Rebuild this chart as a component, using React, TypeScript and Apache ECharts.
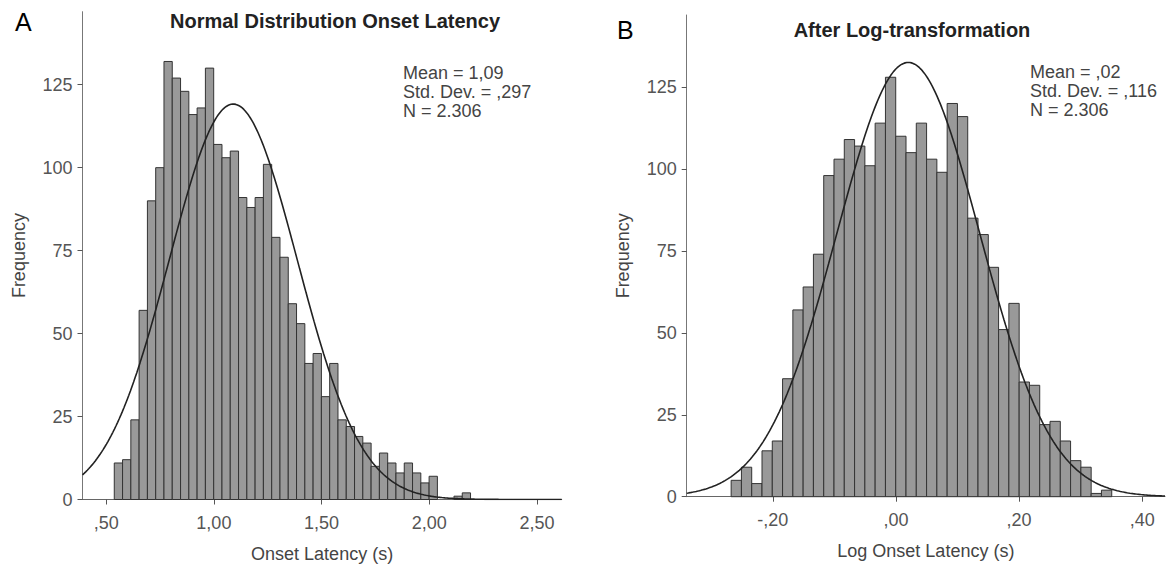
import React, { useEffect, useRef } from "react";
import * as echarts from "echarts";

// Left histogram: Onset Latency (s)
const leftCounts = [11, 12, 24, 57, 90, 100, 132, 127, 123, 116, 118, 130, 107, 103, 105, 91, 88, 91, 101, 79, 73, 59, 53, 41, 44, 31, 41, 24, 22, 19, 17, 10, 14, 11, 8, 11, 8, 5, 7, 0, 0, 1, 2];
const leftBinStart = 0.5375;
const leftBinWidth = 0.03847;
const leftMean = 1.09;
const leftSD = 0.297;
const leftXTicks = [0.5, 1.0, 1.5, 2.0, 2.5];

// Right histogram: Log Onset Latency (s)
const rightCounts = [5, 9, 4, 14, 17, 36, 57, 64, 74, 98, 103, 109, 107, 101, 114, 128, 110, 105, 114, 103, 99, 120, 116, 85, 80, 70, 51, 59, 35, 34, 22, 23, 17, 11, 9, 1, 2];
const rightBinStart = -0.2678;
const rightBinWidth = 0.01671;
const rightMean = 0.02;
const rightSD = 0.116;
const rightXTicks = [-0.2, 0.0, 0.2, 0.4];

const N = 2306;
const yTicks = [0, 25, 50, 75, 100, 125];

const FONT = "Liberation Sans, Arial, sans-serif";

function binData(counts: number[], start: number, width: number) {
  return counts.map((c, i) => [start + i * width, start + (i + 1) * width, c]);
}

function normalCurve(mean: number, sd: number, width: number, xmin: number, xmax: number) {
  const pts: number[][] = [];
  const steps = 300;
  const k = (N * width) / (sd * Math.sqrt(2 * Math.PI));
  for (let i = 0; i <= steps; i++) {
    const x = xmin + ((xmax - xmin) * i) / steps;
    const z = (x - mean) / sd;
    pts.push([x, k * Math.exp(-0.5 * z * z)]);
  }
  return pts;
}

function fmtTick(v: number) {
  const s = v.toFixed(2).replace(".", ",");
  return s.replace(/^0,/, ",").replace(/^-0,/, "-,");
}

const renderBar = (params: any, api: any) => {
  const x0 = api.value(0);
  const x1 = api.value(1);
  const y = api.value(2);
  if (!y) return null;
  const p0 = api.coord([x0, y]);
  const p1 = api.coord([x1, 0]);
  return {
    type: "rect",
    shape: { x: p0[0], y: p0[1], width: p1[0] - p0[0], height: p1[1] - p0[1] },
    style: { fill: "#999999", stroke: "#333333", lineWidth: 1 },
  };
};

export default function App() {
  const ref = useRef<HTMLDivElement>(null);
  useEffect(() => {
    if (!ref.current) return;
    const chart = echarts.init(ref.current, null, { renderer: "svg" });
    const lxMin = 0.39, lxMax = 2.615;
    const rxMin = -0.34, rxMax = 0.437;
    const yMax = 147;

    const xAxisBase = (min: number, max: number, ticks: number[], gridIndex: number, name: string) => ({
      type: "value",
      gridIndex,
      min,
      max,
      name,
      nameLocation: "middle",
      nameGap: 45,
      nameTextStyle: { fontFamily: FONT, fontSize: 18, color: "#444" },
      axisLine: { show: true, onZero: false, lineStyle: { color: "#666", width: 1 } },
      axisTick: { show: true, customValues: ticks, length: 5, lineStyle: { color: "#555" } },
      axisLabel: {
        customValues: ticks,
        formatter: (v: number) => fmtTick(v),
        fontFamily: FONT,
        fontSize: 18,
        color: "#555",
        margin: 14,
      },
      splitLine: { show: false },
    });
    const yAxisBase = (gridIndex: number) => ({
      type: "value",
      gridIndex,
      min: 0,
      max: yMax,
      name: "Frequency",
      nameLocation: "middle",
      nameGap: 55,
      nameTextStyle: { fontFamily: FONT, fontSize: 18, color: "#444" },
      axisLine: { show: true, onZero: false, lineStyle: { color: "#777", width: 1 } },
      axisTick: { show: true, customValues: yTicks, length: 5, lineStyle: { color: "#555" } },
      axisLabel: { customValues: yTicks, fontFamily: FONT, fontSize: 18, color: "#555", margin: 10 },
      splitLine: { show: false },
    });

    chart.setOption({
      animation: false,
      backgroundColor: "#ffffff",
      grid: [
        { left: 82.5, right: 1173 - 561.7, top: 11.7, bottom: 570 - 499.5 },
        { left: 686.7, right: 8, top: 15, bottom: 570 - 496.7 },
      ],
      xAxis: [
        xAxisBase(lxMin, lxMax, leftXTicks, 0, "Onset Latency (s)"),
        xAxisBase(rxMin, rxMax, rightXTicks, 1, "Log Onset Latency (s)"),
      ],
      yAxis: [yAxisBase(0), yAxisBase(1)],
      series: [
        {
          type: "custom",
          xAxisIndex: 0,
          yAxisIndex: 0,
          renderItem: renderBar,
          encode: { x: [0, 1], y: 2 },
          data: binData(leftCounts, leftBinStart, leftBinWidth),
          silent: true,
        },
        {
          type: "line",
          xAxisIndex: 0,
          yAxisIndex: 0,
          data: normalCurve(leftMean, leftSD, leftBinWidth, lxMin, lxMax),
          showSymbol: false,
          smooth: false,
          lineStyle: { color: "#222", width: 1.6 },
          silent: true,
        },
        {
          type: "custom",
          xAxisIndex: 1,
          yAxisIndex: 1,
          renderItem: renderBar,
          encode: { x: [0, 1], y: 2 },
          data: binData(rightCounts, rightBinStart, rightBinWidth),
          silent: true,
        },
        {
          type: "line",
          xAxisIndex: 1,
          yAxisIndex: 1,
          data: normalCurve(rightMean, rightSD, rightBinWidth, rxMin, rxMax),
          showSymbol: false,
          smooth: false,
          lineStyle: { color: "#222", width: 1.6 },
          silent: true,
        },
      ],
      graphic: [
        { type: "text", left: 15, top: 9, style: { text: "A", font: `25px ${FONT}`, fill: "#000" } },
        { type: "text", left: 617, top: 17, style: { text: "B", font: `25px ${FONT}`, fill: "#000" } },
        {
          type: "text",
          x: 335,
          y: 21,
          style: { text: "Normal Distribution Onset Latency", font: `bold 20px ${FONT}`, fill: "#222", align: "center", verticalAlign: "middle" },
        },
        {
          type: "text",
          x: 912,
          y: 30,
          style: { text: "After Log-transformation", font: `bold 20px ${FONT}`, fill: "#222", align: "center", verticalAlign: "middle" },
        },
        {
          type: "text",
          left: 403,
          top: 63,
          style: { text: "Mean = 1,09\nStd. Dev. = ,297\nN = 2.306", font: `18px ${FONT}`, lineHeight: 19, fill: "#444" },
        },
        {
          type: "text",
          left: 1030,
          top: 62,
          style: { text: "Mean = ,02\nStd. Dev. = ,116\nN = 2.306", font: `18px ${FONT}`, lineHeight: 19, fill: "#444" },
        },
      ],
    });
    return () => chart.dispose();
  }, []);
  return <div ref={ref} style={{ position: "fixed", left: 0, top: 0, width: 1173, height: 570 }} />;
}
